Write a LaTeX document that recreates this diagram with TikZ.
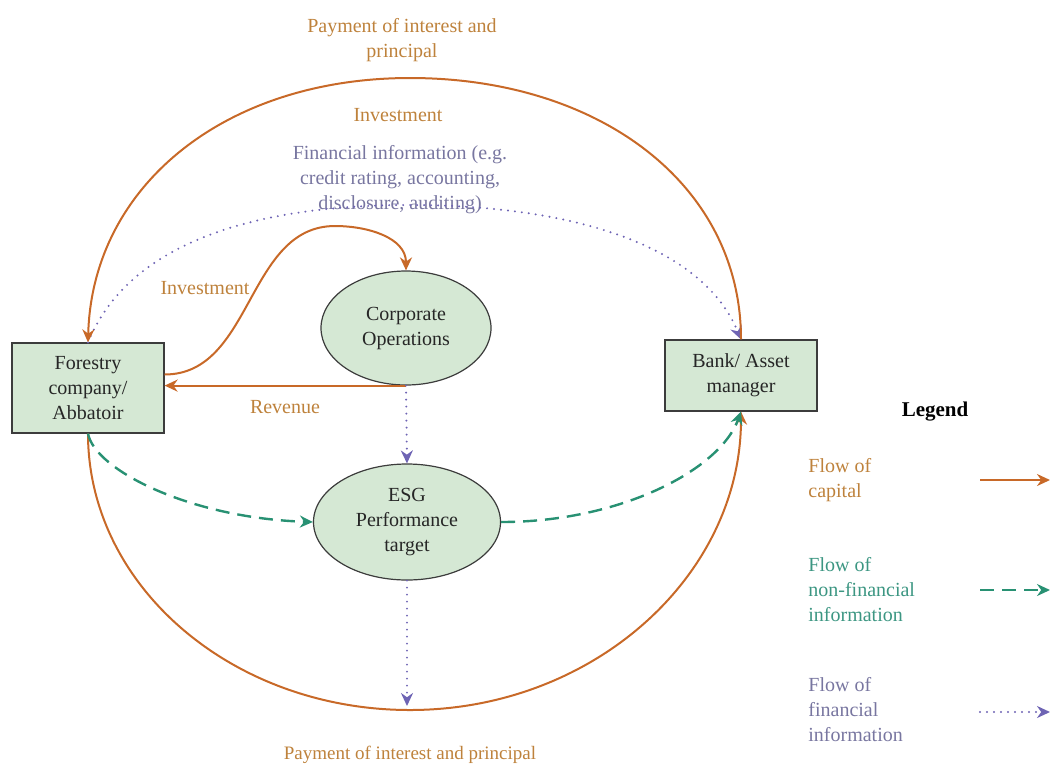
\documentclass[tikz,border=0pt]{standalone}
\usepackage{fontspec}
\setmainfont{Liberation Serif}
\usetikzlibrary{shapes.geometric,arrows.meta}

\definecolor{capline}{RGB}{200,105,40}
\definecolor{captxt}{RGB}{190,130,60}
\definecolor{tealline}{RGB}{40,145,115}
\definecolor{tealtxt}{RGB}{60,150,130}
\definecolor{finline}{RGB}{110,100,180}
\definecolor{fintxt}{RGB}{120,118,160}
\definecolor{boxfill}{RGB}{213,232,212}
\definecolor{boxline}{RGB}{60,60,60}

\begin{document}
\begin{tikzpicture}[x=0.5pt,y=-0.5pt,font=\fontsize{10}{12.5}\selectfont]
        \tikzstyle{box}=[draw=boxline,fill=boxfill,line width=0.6pt,minimum width=76pt,inner sep=0pt,align=center,text=black!85]
        \tikzstyle{blob}=[ellipse,draw=boxline,fill=boxfill,line width=0.6pt,inner sep=0pt,align=center,text=black!85]
        \tikzstyle{capital}=[draw=capline,line width=1pt,-{Stealth[length=6.5pt,width=6pt]}]
        \tikzstyle{nonfin}=[draw=tealline,line width=1.2pt,dash pattern=on 7pt off 4pt,-{Stealth[length=6.5pt,width=6pt]}]
        \tikzstyle{fininfo}=[draw=finline,line width=1.1pt,line cap=round,dash pattern=on 0pt off 3.5pt,-{Stealth[length=6.5pt,width=6pt]}]
        \tikzstyle{captext}=[text=captxt,align=center,inner sep=1pt]
        \tikzstyle{tealtext}=[text=tealtxt,align=left,anchor=west,inner sep=1pt]
        \tikzstyle{fintext}=[text=fintxt,align=center,inner sep=1pt]
        \useasboundingbox (0,0) rectangle (1050,768);

        % actors and activities
        \node[box,minimum height=45pt] (forestry) at (88,388) {Forestry\\company/\\Abbatoir};
        \node[box,minimum height=35.5pt] (bank) at (741,375.5) {Bank/ Asset\\manager};
        \node[blob,minimum width=85pt,minimum height=57pt] (ops) at (406,328) {Corporate\\Operations};
        \node[blob,minimum width=93.5pt,minimum height=58pt] (esg) at (407,522) {ESG\\Performance\\target};
        \coordinate (arcbot) at (407,706);

        % labels
        \node[captext] (paytop) at (402,40) {Payment of interest and\\principal};
        \node[captext] (invtop) at (398,115) {Investment};
        \node[fintext] (finlabel) at (400,180) {Financial information (e.g.\\credit rating, accounting,\\disclosure, auditing)};
        \node[captext] (invops) at (205,288) {Investment};
        \node[captext] (rev) at (285,407) {Revenue};
        \node[captext,font=\fontsize{9.5}{12}\selectfont] (paybot) at (410,755) {Payment of interest and principal};

        % flows
        \draw[fininfo] (forestry.north) .. controls (130,240) and (260,205) .. (410,205) .. controls (560,205) and (700,240) .. (bank.north);
        \draw[capital] (bank.north) .. controls (741,185) and (600,78) .. (410,78) .. controls (225,78) and (92,186) .. (forestry.north);
        \draw[capital] (forestry.south) .. controls (88,586) and (232,710) .. (410,710) .. controls (593,710) and (741,576) .. (bank.south);
        \draw[nonfin] (forestry.south) .. controls (95,470) and (190,518) .. (esg.west);
        \draw[nonfin] (esg.east) .. controls (620,522) and (720,470) .. (bank.south);
        \draw[capital] (forestry.10) to[out=0,in=180] (335,226) to[out=0,in=90] (ops.north);
        \draw[capital] (ops.south) -- (ops.south -| forestry.east);
        \draw[fininfo] (ops.south) -- (esg.north);
        \draw[fininfo] (esg.south) -- (arcbot);

        % legend
        \node[font=\fontsize{10.5}{12.5}\selectfont\bfseries] (legend) at (935,412) {Legend};
        \node[captext,align=left,anchor=west] (legcap) at (806,480) {Flow of\\capital};
        \node[tealtext] (legteal) at (806,590) {Flow of\\non-financial\\information};
        \node[fintext,align=left,anchor=west] (legfin) at (806,710) {Flow of\\financial\\information};
        \coordinate (capA) at (980,480);
        \coordinate (capB) at (1050,480);
        \coordinate (tealA) at (980,590);
        \coordinate (tealB) at (1050,590);
        \coordinate (finA) at (980,712);
        \coordinate (finB) at (1050,712);
        \draw[capital] (capA) -- (capB);
        \draw[nonfin] (tealA) -- (tealB);
        \draw[fininfo] (finA) -- (finB);
\end{tikzpicture}
\end{document}
